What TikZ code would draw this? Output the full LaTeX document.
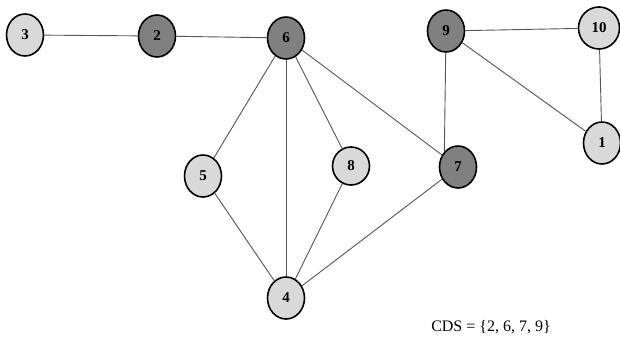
\documentclass[tikz,border=0pt]{standalone}
\usepackage{fontspec}
\setmainfont{Liberation Serif}
\usetikzlibrary{shapes.geometric}
\definecolor{lightnode}{HTML}{D9D9D9}
\definecolor{darknode}{HTML}{808080}
\definecolor{edgecol}{HTML}{555555}
\tikzset{
  vtx/.style={ellipse, draw=black, line width=1.6pt, minimum width=37pt, minimum height=42pt, inner sep=0pt, font=\fontsize{15}{15}\selectfont\bfseries},
  light/.style={vtx, fill=lightnode},
  dark/.style={vtx, fill=darknode},
  edge/.style={draw=edgecol, line width=0.9pt}
}
\begin{document}
\begin{tikzpicture}[x=1pt,y=-1pt]
\useasboundingbox (0,0) rectangle (620,345);
\node[light] (n3) at (25,35) {3};
\node[dark] (n2) at (157,36) {2};
\node[dark] (n6) at (286,38) {6};
\node[dark] (n9) at (446,31) {9};
\node[light, minimum width=41pt] (n10) at (599,28) {10};
\node[light] (n1) at (602,143) {1};
\node[light] (n5) at (203,176) {5};
\node[light, minimum height=38pt] (n8) at (351,166) {8};
\node[dark] (n7) at (458,167) {7};
\node[light] (n4) at (286,298) {4};
\draw[edge] (n3) -- (n2);
\draw[edge] (n2) -- (n6);
\draw[edge] (n6) -- (n5);
\draw[edge] (n6) -- (n4);
\draw[edge] (n6) -- (n8);
\draw[edge] (n6) -- (n7);
\draw[edge] (n5) -- (n4);
\draw[edge] (n8) -- (n4);
\draw[edge] (n7) -- (n4);
\draw[edge] (n9) -- (n7.north west);
\draw[edge] (n9) -- (n10);
\draw[edge] (n9) -- (n1);
\draw[edge] (n10) -- (n1);
\node[font=\fontsize{16}{16}\selectfont] (cds) at (491,327) {CDS = \{2, 6, 7, 9\}};
\end{tikzpicture}
\end{document}
